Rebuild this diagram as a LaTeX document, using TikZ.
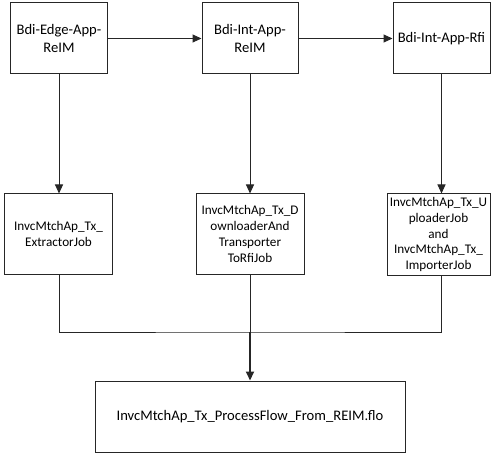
\documentclass[tikz,border=0pt]{standalone}
\usepackage{fontspec}
\setmainfont{Carlito}
\usetikzlibrary{arrows.meta}
\tikzset{
  box/.style={draw=black!85, line width=1bp, fill=white, align=center, inner sep=0pt},
  topbox/.style={box, minimum width=96bp, minimum height=71bp, font=\fontsize{14.6bp}{17.9bp}\selectfont},
  jobbox/.style={box, minimum height=80bp, font=\fontsize{13.2bp}{15.9bp}\selectfont},
  conn/.style={draw=black!85, line width=1bp},
  arr/.style={conn, -{Triangle[length=9bp,width=8bp]}},
}
\begin{document}
\begin{tikzpicture}[x=1bp,y=-1bp]
\useasboundingbox (0,0) rectangle (503,460);
\node[topbox] (b1) at (59,38.5) {Bdi-Edge-App-\\ReIM};
\node[topbox] (b2) at (250,38.5) {Bdi-Int-App-\\ReIM};
\node[topbox, minimum width=97bp] (b3) at (441.5,38.5) {Bdi-Int-App-Rfi};
\node[jobbox, minimum width=107bp] (b4) at (58.5,234) {InvcMtchAp\_Tx\_\\ExtractorJob};
\node[jobbox, minimum width=108bp] (b5) at (250,234) {InvcMtchAp\_Tx\_D\\ownloaderAnd\\Transporter\\ToRfiJob};
\node[jobbox, minimum width=103bp, minimum height=81bp] (b6) at (438.5,234.5) {InvcMtchAp\_Tx\_U\\ploaderJob\\and\\InvcMtchAp\_Tx\_\\ImporterJob};
\node[box, minimum width=310bp, minimum height=71bp, font=\fontsize{14.6bp}{17.9bp}\selectfont] (b7) at (250,416.5) {InvcMtchAp\_Tx\_ProcessFlow\_From\_REIM.flo};
\coordinate (j) at (250,332);
\draw[arr] (b1) -- (b2);
\draw[arr] (b2) -- (b3);
\draw[arr] (b1.south) -- (b1.south |- b4.north);
\draw[arr] (b2.south) -- (b2.south |- b5.north);
\draw[arr] (b3.south) -- (b3.south |- b6.north);
\draw[conn] (b1.south |- b4.south) |- (j) -| (b3.south |- b6.south);
\draw[conn] (b5.south) -- (j);
\draw[arr, line width=2bp] (j) -- (b7.north);
\end{tikzpicture}
\end{document}
